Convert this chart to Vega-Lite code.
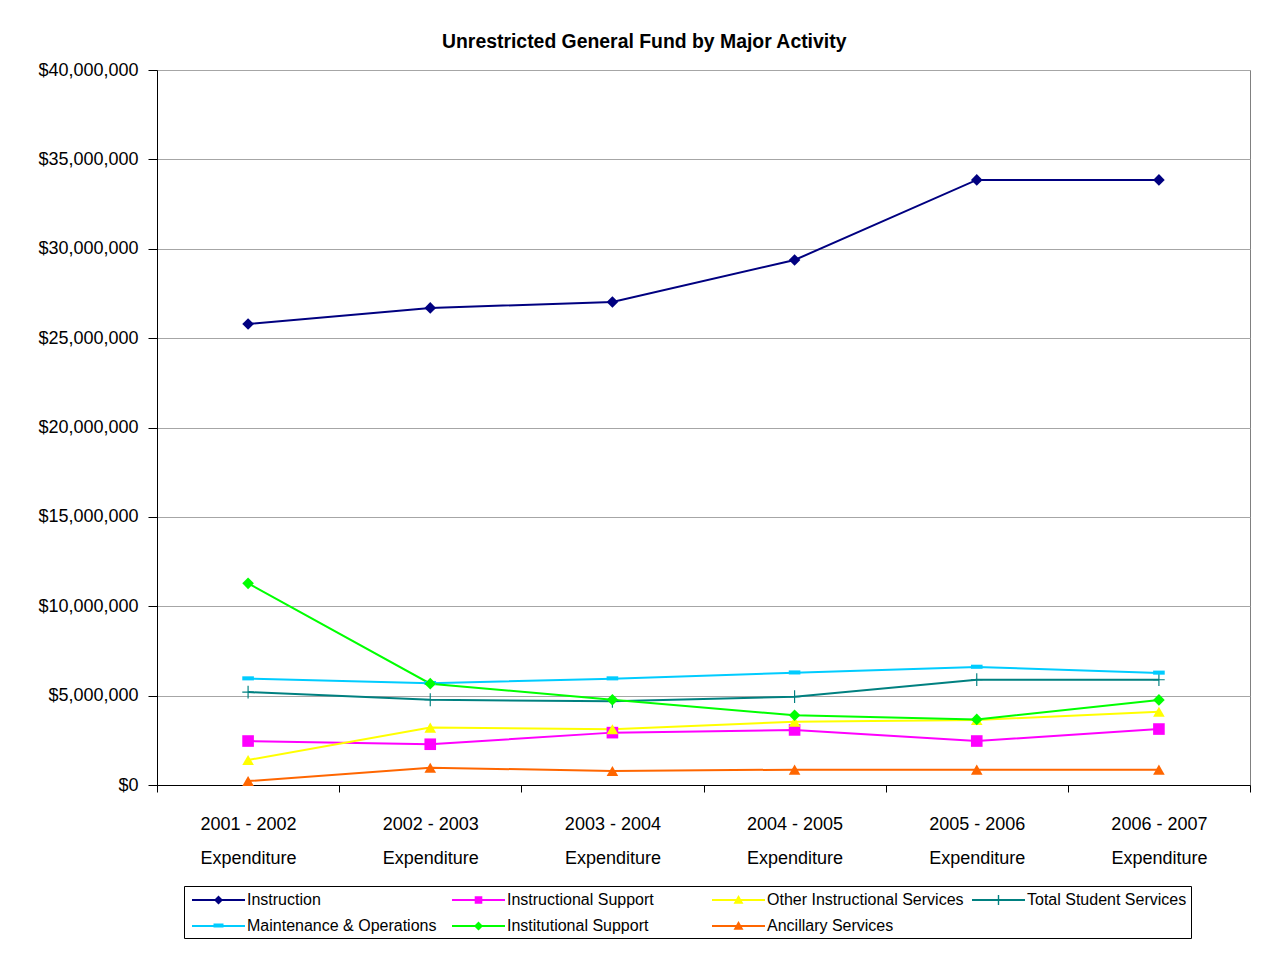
{
  "$schema": "https://vega.github.io/schema/vega-lite/v6.json",
  "width": 1093,
  "height": 715,
  "autosize": {"type": "none"},
  "padding": {"left": 157, "top": 70, "right": 29, "bottom": 178},
  "background": "white",
  "config": {
    "font": "Liberation Sans",
    "view": {"stroke": "#808080", "strokeWidth": 1},
    "axis": {"domainColor": "black", "tickColor": "black", "labelColor": "black", "labelFont": "Liberation Sans"}
  },
  "title": {
    "text": "Unrestricted General Fund by Major Activity",
    "font": "Liberation Sans",
    "fontSize": 19.4,
    "fontWeight": "bold",
    "color": "black",
    "anchor": "middle",
    "frame": "bounds",
    "offset": 9
  },
  "data": {
    "values": [
      {"year": "2001 - 2002", "series": "Instruction", "value": 25790000},
      {"year": "2002 - 2003", "series": "Instruction", "value": 26690000},
      {"year": "2003 - 2004", "series": "Instruction", "value": 27020000},
      {"year": "2004 - 2005", "series": "Instruction", "value": 29370000},
      {"year": "2005 - 2006", "series": "Instruction", "value": 33850000},
      {"year": "2006 - 2007", "series": "Instruction", "value": 33850000},
      {"year": "2001 - 2002", "series": "Instructional Support", "value": 2460000},
      {"year": "2002 - 2003", "series": "Instructional Support", "value": 2280000},
      {"year": "2003 - 2004", "series": "Instructional Support", "value": 2930000},
      {"year": "2004 - 2005", "series": "Instructional Support", "value": 3080000},
      {"year": "2005 - 2006", "series": "Instructional Support", "value": 2460000},
      {"year": "2006 - 2007", "series": "Instructional Support", "value": 3130000},
      {"year": "2001 - 2002", "series": "Other Instructional Services", "value": 1400000},
      {"year": "2002 - 2003", "series": "Other Instructional Services", "value": 3210000},
      {"year": "2003 - 2004", "series": "Other Instructional Services", "value": 3120000},
      {"year": "2004 - 2005", "series": "Other Instructional Services", "value": 3540000},
      {"year": "2005 - 2006", "series": "Other Instructional Services", "value": 3640000},
      {"year": "2006 - 2007", "series": "Other Instructional Services", "value": 4100000},
      {"year": "2001 - 2002", "series": "Total Student Services", "value": 5200000},
      {"year": "2002 - 2003", "series": "Total Student Services", "value": 4770000},
      {"year": "2003 - 2004", "series": "Total Student Services", "value": 4680000},
      {"year": "2004 - 2005", "series": "Total Student Services", "value": 4940000},
      {"year": "2005 - 2006", "series": "Total Student Services", "value": 5890000},
      {"year": "2006 - 2007", "series": "Total Student Services", "value": 5890000},
      {"year": "2001 - 2002", "series": "Maintenance & Operations", "value": 5950000},
      {"year": "2002 - 2003", "series": "Maintenance & Operations", "value": 5690000},
      {"year": "2003 - 2004", "series": "Maintenance & Operations", "value": 5950000},
      {"year": "2004 - 2005", "series": "Maintenance & Operations", "value": 6280000},
      {"year": "2005 - 2006", "series": "Maintenance & Operations", "value": 6600000},
      {"year": "2006 - 2007", "series": "Maintenance & Operations", "value": 6270000},
      {"year": "2001 - 2002", "series": "Institutional Support", "value": 11280000},
      {"year": "2002 - 2003", "series": "Institutional Support", "value": 5670000},
      {"year": "2003 - 2004", "series": "Institutional Support", "value": 4770000},
      {"year": "2004 - 2005", "series": "Institutional Support", "value": 3900000},
      {"year": "2005 - 2006", "series": "Institutional Support", "value": 3670000},
      {"year": "2006 - 2007", "series": "Institutional Support", "value": 4760000},
      {"year": "2001 - 2002", "series": "Ancillary Services", "value": 220000},
      {"year": "2002 - 2003", "series": "Ancillary Services", "value": 970000},
      {"year": "2003 - 2004", "series": "Ancillary Services", "value": 780000},
      {"year": "2004 - 2005", "series": "Ancillary Services", "value": 860000},
      {"year": "2005 - 2006", "series": "Ancillary Services", "value": 860000},
      {"year": "2006 - 2007", "series": "Ancillary Services", "value": 860000}
    ]
  },
  "encoding": {
    "x": {
      "field": "year",
      "type": "ordinal",
      "bandPosition": 0.5,
      "scale": {"type": "band", "paddingInner": 0, "paddingOuter": 0},
      "axis": {
        "title": null,
        "labelAngle": 0,
        "tickBand": "extent",
        "tickSize": 7,
        "labelPadding": 23,
        "labelFontSize": 18,
        "labelBaseline": "top",
        "labelLineHeight": 34,
        "labelExpr": "datum.label ? [datum.label, 'Expenditure'] : ''",
        "grid": false
      }
    },
    "y": {
      "field": "value",
      "type": "quantitative",
      "scale": {"domain": [0, 40000000], "nice": false},
      "axis": {
        "title": null,
        "format": "$,.0f",
        "values": [0, 5000000, 10000000, 15000000, 20000000, 25000000, 30000000, 35000000, 40000000],
        "tickSize": 9,
        "labelPadding": 10,
        "labelFontSize": 18,
        "grid": true,
        "gridColor": "#a6a6a6"
      }
    }
  },
  "layer": [
    {
      "mark": {"type": "line", "strokeWidth": 2},
      "encoding": {
        "color": {
          "field": "series",
          "type": "nominal",
          "scale": {
            "domain": ["Instruction", "Instructional Support", "Other Instructional Services", "Total Student Services", "Maintenance & Operations", "Institutional Support", "Ancillary Services"],
            "range": ["#000080", "#ff00ff", "#ffff00", "#008080", "#00ccff", "#00ff00", "#ff6600"]
          },
          "legend": null
        }
      }
    },
    {
      "mark": {"type": "point", "filled": true, "opacity": 1, "size": 135, "strokeWidth": 0},
      "encoding": {
        "color": {
          "field": "series",
          "type": "nominal",
          "scale": {
            "domain": ["Instruction", "Instructional Support", "Other Instructional Services", "Total Student Services", "Maintenance & Operations", "Institutional Support", "Ancillary Services"],
            "range": ["#000080", "#ff00ff", "#ffff00", "#008080", "#00ccff", "#00ff00", "#ff6600"]
          },
          "legend": null
        },
        "shape": {
          "field": "series",
          "type": "nominal",
          "scale": {
            "domain": ["Instruction", "Instructional Support", "Other Instructional Services", "Total Student Services", "Maintenance & Operations", "Institutional Support", "Ancillary Services"],
            "range": ["diamond", "square", "triangle-up", "M-0.1,-1.1H0.1V-0.1H1V0.1H0.1V1.1H-0.1V0.1H-1V-0.1H-0.1Z", "M-1,-0.4H1V0.3H-1Z", "diamond", "triangle-up"]
          },
          "legend": null
        }
      }
    },
    {
      "transform": [{"filter": "datum.value < 0"}],
      "mark": {"type": "point", "filled": true, "opacity": 1, "strokeWidth": 0},
      "encoding": {
        "color": {
          "field": "series",
          "type": "nominal",
          "scale": {
            "domain": ["Instruction", "Instructional Support", "Other Instructional Services", "Total Student Services", "Maintenance & Operations", "Institutional Support", "Ancillary Services"],
            "range": ["#000080", "#ff00ff", "#ffff00", "#008080", "#00ccff", "#00ff00", "#ff6600"]
          },
          "legend": {
            "orient": "none", "legendX": 27, "legendY": 816, "direction": "horizontal", "columns": 4,
            "title": null, "strokeColor": "black", "padding": 4, "labelFontSize": 16, "labelColor": "black",
            "symbolSize": 400, "gridAlign": "all", "columnPadding": 4, "rowPadding": 8, "labelOffset": 39,
            "symbolStrokeWidth": 0, "labelLimit": 300
          }
        },
        "shape": {
          "field": "series",
          "type": "nominal",
          "scale": {
            "domain": ["Instruction", "Instructional Support", "Other Instructional Services", "Total Student Services", "Maintenance & Operations", "Institutional Support", "Ancillary Services"],
            "range": [
              "M-0.6,-0.1H4.7V0.1H-0.6Z M2.05,-0.45L2.5,0L2.05,0.45L1.6,0Z",
              "M-0.6,-0.1H4.7V0.1H-0.6Z M1.67,-0.38H2.43V0.38H1.67Z",
              "M-0.6,-0.1H4.7V0.1H-0.6Z M2.05,-0.5L2.55,0.38L1.55,0.38Z",
              "M-0.6,-0.1H4.7V0.1H-0.6Z M1.98,-0.5H2.12V0.5H1.98Z",
              "M-0.6,-0.1H4.7V0.1H-0.6Z M1.55,-0.25H2.55V0.15H1.55Z",
              "M-0.6,-0.1H4.7V0.1H-0.6Z M2.05,-0.45L2.5,0L2.05,0.45L1.6,0Z",
              "M-0.6,-0.1H4.7V0.1H-0.6Z M2.05,-0.5L2.55,0.38L1.55,0.38Z"
            ]
          },
          "legend": {
            "orient": "none", "legendX": 27, "legendY": 816, "direction": "horizontal", "columns": 4,
            "title": null, "strokeColor": "black", "padding": 4, "labelFontSize": 16, "labelColor": "black",
            "symbolSize": 400, "gridAlign": "all", "columnPadding": 4, "rowPadding": 8, "labelOffset": 39,
            "symbolStrokeWidth": 0, "labelLimit": 300
          }
        }
      }
    }
  ],
  "resolve": {"scale": {"color": "independent", "shape": "independent"}}
}
